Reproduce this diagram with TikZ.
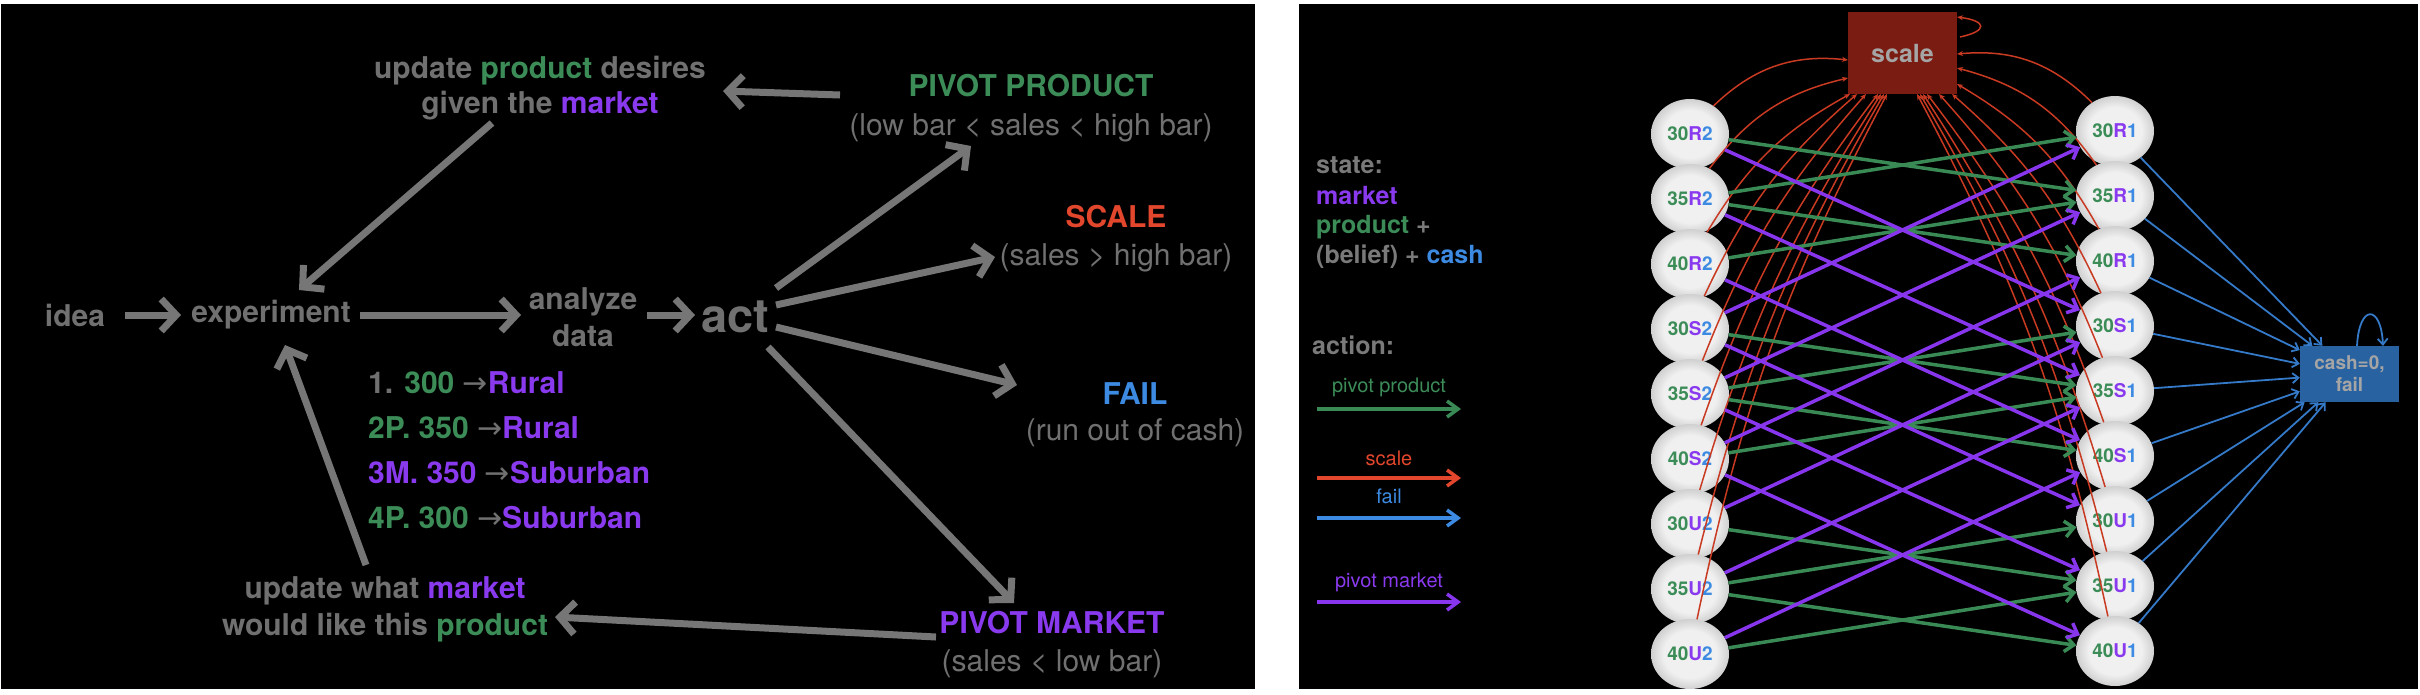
\documentclass[tikz,border=0pt]{standalone}
\usepackage{fontspec}
\setmainfont{TeX Gyre Heros}
\newfontfamily\arrowfont{DejaVu Sans}
\usetikzlibrary{arrows.meta,shapes.geometric,calc}
\definecolor{cgreen}{RGB}{60,140,88}
\definecolor{cpurple}{RGB}{138,58,238}
\definecolor{cblue}{RGB}{60,138,225}
\definecolor{cred}{RGB}{226,70,44}
\definecolor{ltxt}{RGB}{112,112,112}
\definecolor{larrow}{RGB}{118,118,118}
\definecolor{rtxt}{RGB}{122,122,122}
\definecolor{lgreen}{RGB}{58,138,86}
\definecolor{lpurple}{RGB}{136,54,238}
\definecolor{lred}{RGB}{200,58,34}
\definecolor{lblue}{RGB}{52,122,200}
\definecolor{scalefill}{RGB}{122,28,18}
\definecolor{failfill}{RGB}{40,98,160}
\definecolor{boxtxt}{RGB}{165,165,165}
\definecolor{nodein}{RGB}{240,240,240}
\definecolor{nodeout}{RGB}{208,208,208}
\pgfdeclareradialshading{nodeshade}{\pgfpoint{0bp}{0bp}}{color(0bp)=(nodein); color(17bp)=(nodein); color(25bp)=(nodeout); color(50bp)=(nodeout)}
\newcommand{\larr}{{\arrowfont\mdseries\color{ltxt}→}}
\tikzset{
  ltext/.style={text=ltxt, font=\fontsize{30}{38}\selectfont\bfseries, inner sep=0pt, align=center},
  bigarrow/.style={draw=larrow, line width=7pt, -{Straight Barb[length=15pt,width=32pt]}},
  rtext/.style={text=rtxt, font=\fontsize{25}{30}\selectfont\bfseries, inner sep=0pt},
  legtxt/.style={font=\fontsize{20}{24}\selectfont, inner sep=0pt},
  stnode/.style={ellipse, minimum width=78pt, minimum height=70pt, inner sep=0pt, shading=nodeshade, font=\fontsize{19}{19}\selectfont\bfseries},
  gedge/.style={draw=lgreen, line width=3.5pt, -{Straight Barb[length=9pt,width=16pt]}},
  pedge/.style={draw=lpurple, line width=3.5pt, -{Straight Barb[length=9pt,width=16pt]}},
  redge/.style={draw=lred, line width=1.5pt, -{Stealth[length=6pt,width=5pt]}},
  bedge/.style={draw=lblue, line width=1.8pt, -{Straight Barb[length=6pt,width=10pt]}},
  legarrow/.style={line width=3.5pt, -{Straight Barb[length=11pt,width=16pt]}},
}
\begin{document}
\begin{tikzpicture}[x=1pt,y=-1pt]
\useasboundingbox (0,0) rectangle (2420,694);
\fill[white] (0,0) rectangle (2420,694);
\fill[black] (1,4) rectangle (1255,689);
\fill[black] (1299,4) rectangle (2418,689);

% ---------------- left panel ----------------
\node[ltext] (idea) at (75,315) {idea};
\node[ltext] (exp) at (271,315) {experiment};
\node[ltext, font=\fontsize{30}{37}\selectfont\bfseries] (ana) at (583,317) {analyze\\data};
\node[ltext, font=\fontsize{47}{50}\selectfont\bfseries] (act) at (735,317) {act};
\node[ltext, font=\fontsize{30}{35}\selectfont\bfseries] (upd1) at (540,88) {update \textcolor{cgreen}{product} desires\\given the \textcolor{cpurple}{market}};
\node[ltext, font=\fontsize{30}{39}\selectfont\bfseries] (pp) at (1031,108) {\textcolor{cgreen}{PIVOT PRODUCT}\\\mdseries(low bar < sales < high bar)};
\node[ltext] (sc) at (1116,239) {\textcolor{cred}{SCALE}\\\mdseries(sales > high bar)};
\node[ltext, font=\fontsize{30}{36}\selectfont\bfseries] (fl) at (1135,415) {\textcolor{cblue}{FAIL}\\\mdseries(run out of cash)};
\node[ltext] (pm) at (1052,645) {\textcolor{cpurple}{PIVOT MARKET}\\\mdseries(sales < low bar)};
\node[ltext, font=\fontsize{30}{37}\selectfont\bfseries] (upd2) at (385,609) {update what \textcolor{cpurple}{market}\\would like this \textcolor{cgreen}{product}};

\node[ltext, anchor=west] (li1) at (368,383) {1. \textcolor{cgreen}{300} \larr\textcolor{cpurple}{Rural}};
\node[ltext, anchor=west] (li2) at (368,428) {\textcolor{cgreen}{2P. 350} \larr\textcolor{cpurple}{Rural}};
\node[ltext, anchor=west] (li3) at (368,473) {\textcolor{cpurple}{3M. 350} \larr\textcolor{cpurple}{Suburban}};
\node[ltext, anchor=west] (li4) at (368,518) {\textcolor{cgreen}{4P. 300} \larr\textcolor{cpurple}{Suburban}};

\draw[bigarrow] ([shift={(50,0)}]idea.center) -- ([shift={(-90,0)}]exp.center);
\draw[bigarrow] ([shift={(89,0)}]exp.center) -- ([shift={(-62,-2)}]ana.center);
\draw[bigarrow] ([shift={(64,-2)}]ana.center) -- ([shift={(-40,-2)}]act.center);
\draw[bigarrow] ([shift={(41,-29)}]act.center) -- ([shift={(-60,38)}]pp.center);
\draw[bigarrow] ([shift={(41,-12)}]act.center) -- ([shift={(-121,18)}]sc.center);
\draw[bigarrow] ([shift={(41,10)}]act.center) -- ([shift={(-118,-30)}]fl.center);
\draw[bigarrow] ([shift={(33,30)}]act.center) -- ([shift={(-38,-42)}]pm.center);
\draw[bigarrow] ([shift={(-191,-13)}]pp.center) -- ([shift={(183,3)}]upd1.center);
\draw[bigarrow] ([shift={(-48,35)}]upd1.center) -- ([shift={(28,-25)}]exp.center);
\draw[bigarrow] ([shift={(-116,-8)}]pm.center) -- ([shift={(170,8)}]upd2.center);
\draw[bigarrow] ([shift={(-19,-44)}]upd2.center) -- ([shift={(14,30)}]exp.center);

% ---------------- right panel ----------------
\node[rtext, anchor=west] (st1) at (1316,165) {state:};
\node[rtext, anchor=west, text=cpurple] (st2) at (1316,195) {market};
\node[rtext, anchor=west] (st3) at (1316,227) {\textcolor{cgreen}{product} +};
\node[rtext, anchor=west] (st4) at (1316,257) {(belief) + \textcolor{cblue}{cash}};
\node[rtext, anchor=west] (actlab) at (1312,345) {action:};

\node[legtxt, text=cgreen] (lg1) at (1389,387) {pivot product};
\coordinate (lg1a) at (1317,409); \coordinate (lg1b) at (1461,409);
\draw[legarrow, draw=lgreen] (lg1a) -- (lg1b);
\node[legtxt, text=cred] (lg2) at (1389,458) {scale};
\coordinate (lg2a) at (1317,478); \coordinate (lg2b) at (1461,478);
\draw[legarrow, draw=cred] (lg2a) -- (lg2b);
\node[legtxt, text=cblue] (lg3) at (1389,496) {fail};
\coordinate (lg3a) at (1317,518); \coordinate (lg3b) at (1461,518);
\draw[legarrow, draw=cblue] (lg3a) -- (lg3b);
\node[legtxt, text=cpurple] (lg4) at (1389,582) {pivot market};
\coordinate (lg4a) at (1317,602); \coordinate (lg4b) at (1461,602);
\draw[legarrow, draw=lpurple] (lg4a) -- (lg4b);

\node[fill=scalefill, minimum width=109pt, minimum height=82pt, inner sep=0pt, text=boxtxt, font=\fontsize{25}{25}\selectfont\bfseries] (scale) at (1902.5,53) {scale};
\node[fill=failfill, minimum width=99pt, minimum height=56pt, inner sep=0pt, text=boxtxt, align=center, font=\fontsize{19}{22}\selectfont\bfseries] (fail) at (2349.5,374) {cash=0,\\fail};

\foreach \p/\m/\r in {30/R/0,35/R/1,40/R/2,30/S/3,35/S/4,40/S/5,30/U/6,35/U/7,40/U/8}{
  \node[stnode] (L\p\m) at (1690,{134+65*\r}) {\textcolor{cgreen}{\p}\textcolor{cpurple}{\m}\textcolor{cblue}{2}};
  \node[stnode] (R\p\m) at (2115,{131+65*\r}) {\textcolor{cgreen}{\p}\textcolor{cpurple}{\m}\textcolor{cblue}{1}};
}

% scale edges
\foreach \n/\dx/\dy/\b in {30R/-54.5/7/25, 35R/-54.5/25/20, 40R/-52.5/41/15, 30S/-45.5/41/12, 35S/-36.5/41/10, 40S/-24.5/41/9, 30U/-21.5/41/8, 35U/-18.5/41/8, 40U/-15.5/41/8}
  \draw[redge] (L\n) to[bend left=\b] ([shift={(\dx,\dy)}]scale.center);
\foreach \n/\dx/\dy/\b in {30R/54.5/1/25, 35R/54.5/15/20, 40R/54.5/31/15, 30S/49.5/41/12, 35S/36.5/41/10, 40S/24.5/41/9, 30U/20.5/41/8, 35U/17.5/41/8, 40U/14.5/41/8}
  \draw[redge] (R\n) to[bend right=\b] ([shift={(\dx,\dy)}]scale.center);
\draw[redge] ([shift={(57.5,-16)}]scale.center) .. controls +(28,-6) and +(30,4) .. ([shift={(54.5,-36)}]scale.center);

% pivot product edges
\foreach \m in {R,S,U}{
  \draw[gedge] (L30\m) -- (R35\m);
  \draw[gedge] (L35\m) -- (R30\m);
  \draw[gedge] (L35\m) -- (R40\m);
  \draw[gedge] (L40\m) -- (R35\m);
}
% pivot market edges
\foreach \p in {30,35,40}{
  \draw[pedge] (L\p R) -- (R\p S);
  \draw[pedge] (L\p S) -- (R\p R);
  \draw[pedge] (L\p S) -- (R\p U);
  \draw[pedge] (L\p U) -- (R\p S);
}
% fail edges
\foreach \n in {30R,35R,40R,30S,35S,40S,30U,35U,40U}
  \draw[bedge] (R\n) -- (fail);
\draw[bedge] ([shift={(7.5,-28)}]fail.center) .. controls +(2,-42) and +(-2,-42) .. ([shift={(33.5,-28)}]fail.center);
\end{tikzpicture}
\end{document}
